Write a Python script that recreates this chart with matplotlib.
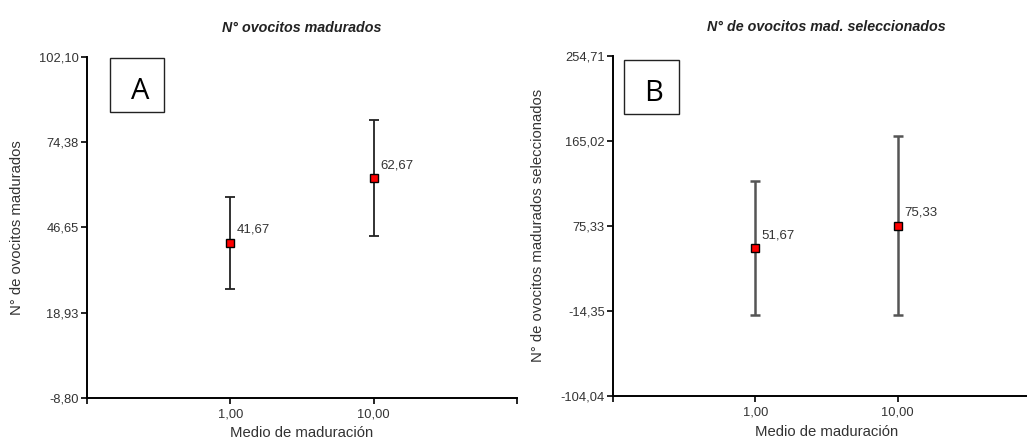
import matplotlib

matplotlib.use("Agg")
import matplotlib.pyplot as plt
from matplotlib.patches import Rectangle

# data (SPSS-style mean + interval plot)
categories = ["1,00", "10,00"]

madurados_mean = [41.67, 62.67]
madurados_low = [26.7, 44.0]
madurados_high = [56.5, 81.6]
madurados_ticks = [-8.80, 18.93, 46.65, 74.38, 102.10]

seleccionados_mean = [51.67, 75.33]
seleccionados_low = [-18.5, -18.5]
seleccionados_high = [122.4, 170.2]
seleccionados_ticks = [-104.04, -14.35, 75.33, 165.02, 254.71]

plt.rcParams["font.family"] = ["Liberation Sans", "DejaVu Sans"]
TEXT = "#333333"


def fmt(v: float) -> str:
    return f"{v:.2f}".replace(".", ",")


def draw_panel(ax, means, low, high, yticks, title, ylabel, letter, bar_color,
               bar_lw, ylabel_x, xlabel_y, box, letter_xy):
    xs = list(range(1, len(means) + 1))
    err = [[m - lo for m, lo in zip(means, low)], [hi - m for m, hi in zip(means, high)]]
    ax.errorbar(xs, means, yerr=err, fmt="none", ecolor=bar_color, elinewidth=bar_lw,
                capsize=3.5, capthick=bar_lw, zorder=2)
    ax.plot(xs, means, ls="none", marker="s", markersize=6, markerfacecolor="#ff0000",
            markeredgecolor="black", markeredgewidth=1.0, zorder=3)
    for x, m in zip(xs, means):
        ax.annotate(fmt(m), (x, m), xytext=(4.5, 9.5), textcoords="offset points",
                    ha="left", va="center", fontsize=9.5, color=TEXT)

    ax.set_xlim(0, len(means) + 1)
    ax.set_ylim(yticks[0], yticks[-1])
    ax.set_xticks([0] + xs + [len(means) + 1])
    ax.set_xticklabels([""] + categories + [""])
    ax.set_yticks(yticks)
    ax.set_yticklabels([fmt(v) for v in yticks])
    ax.tick_params(axis="both", length=4, width=1.2, labelsize=9.3, labelcolor=TEXT,
                   pad=2)
    ax.tick_params(axis="x", pad=3.5)

    for side in ("top", "right"):
        ax.spines[side].set_visible(False)
    for side in ("left", "bottom"):
        ax.spines[side].set_linewidth(1.4)

    ax.set_title(title, fontsize=10.3, fontweight="bold", fontstyle="italic",
                 color="#222222", pad=18)
    ax.set_ylabel(ylabel, fontsize=10.7, color=TEXT, va="center")
    ax.yaxis.set_label_coords(ylabel_x, 0.5)
    ax.set_xlabel("Medio de maduración", fontsize=10.7, color=TEXT, va="center")
    ax.xaxis.set_label_coords(0.5, xlabel_y)

    ax.add_patch(Rectangle((box[0], box[1]), box[2], box[3], transform=ax.transAxes,
                           fill=False, edgecolor="#222222", linewidth=1.0,
                           clip_on=False))
    ax.text(letter_xy[0], letter_xy[1], letter, transform=ax.transAxes, fontsize=21,
            family=["Open Sans", "DejaVu Sans"], ha="center", va="center",
            color="black")


fig = plt.figure(figsize=(10.27, 4.4), dpi=100)
ax_a = fig.add_axes([0.0847, 0.0955, 0.4187, 0.775])
ax_b = fig.add_axes([0.5969, 0.1007, 0.4158, 0.772])

draw_panel(ax_a, madurados_mean, madurados_low, madurados_high, madurados_ticks,
           "N° ovocitos madurados", "N° de ovocitos madurados", "A", "#222222", 1.3,
           -0.163, -0.103, (0.0535, 0.839, 0.1255, 0.158), (0.123, 0.90))
draw_panel(ax_b, seleccionados_mean, seleccionados_low, seleccionados_high,
           seleccionados_ticks, "N° de ovocitos mad. seleccionados",
           "N° de ovocitos madurados seleccionados", "B", "#555555", 1.8,
           -0.176, -0.106, (0.0258, 0.829, 0.1288, 0.159), (0.096, 0.89))

fig.savefig("out.png", dpi=100)
